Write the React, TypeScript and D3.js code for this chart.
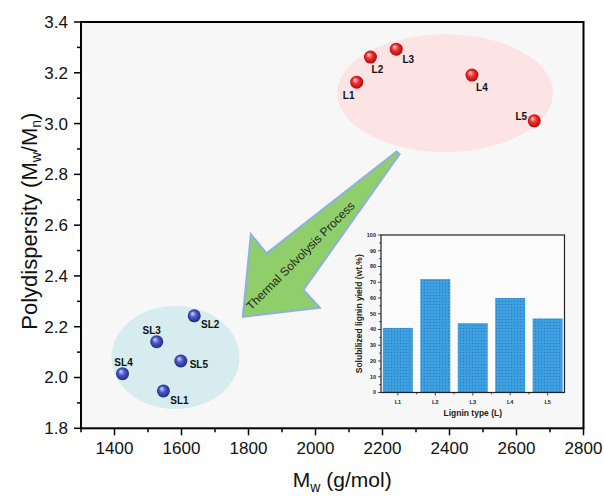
import React, { useEffect, useRef } from 'react';
import * as d3 from 'd3';

// raw lignins (red) and solvolysis lignins (blue)
const ligninLabels = ['L1', 'L2', 'L3', 'L4', 'L5'];
const ligninMw = [2123, 2164, 2241, 2467, 2653];
const ligninPdi = [3.163, 3.262, 3.293, 3.191, 3.011];

const slLabels = ['SL1', 'SL2', 'SL3', 'SL4', 'SL5'];
const slMw = [1546, 1638, 1526, 1424, 1598];
const slPdi = [1.947, 2.243, 2.141, 2.015, 2.065];

// inset bar chart
const yieldCategories = ['L1', 'L2', 'L3', 'L4', 'L5'];
const yieldValues = [41, 72, 44, 60, 47];

const xTicks = [1400, 1600, 1800, 2000, 2200, 2400, 2600, 2800];
const yTicks = [1.8, 2.0, 2.2, 2.4, 2.6, 2.8, 3.0, 3.2, 3.4];
const insetTicks = [0, 10, 20, 30, 40, 50, 60, 70, 80, 90, 100];

// group ellipses in data units: [cx, cy, rx, ry]
const ligninCloud = [2387, 3.12, 322, 0.232];
const slCloud = [1582, 2.079, 191, 0.203];

// arrow outline in data units
const arrowMw = [2242, 2251, 1964, 2013, 1783, 1807, 1854];
const arrowPdi = [2.89, 2.88, 2.345, 2.275, 2.239, 2.564, 2.489];

// label offsets in px
const ligninLabelDx = [-8, 7, 12, 10, -13];
const ligninLabelDy = [13, 12, 10, 12, -4];
const slLabelDx = [16, 16, -5, 1, 18];
const slLabelDy = [10, 9, -11, -11, 3];

const App = () => {
  const ref = useRef(null);

  useEffect(() => {
    const svg = d3.select(ref.current);
    svg.selectAll('*').remove();

    const left = 81, right = 583.5, top = 22, bottom = 428.3;
    const x = d3.scaleLinear().domain([1300, 2800]).range([left, right]);
    const y = d3.scaleLinear().domain([1.8, 3.4]).range([bottom, top]);

    const defs = svg.append('defs');
    const mkGrad = (id, c0, c1, c2) => {
      const g = defs.append('radialGradient').attr('id', id)
        .attr('cx', '50%').attr('cy', '50%').attr('r', '55%')
        .attr('fx', '35%').attr('fy', '30%');
      g.append('stop').attr('offset', '0%').attr('stop-color', c0);
      g.append('stop').attr('offset', '45%').attr('stop-color', c1);
      g.append('stop').attr('offset', '100%').attr('stop-color', c2);
    };
    mkGrad('redBall', '#ffd0d0', '#f03030', '#b00000');
    mkGrad('blueBall', '#d0d6ff', '#4a58c8', '#1c2478');

    const pat = defs.append('pattern').attr('id', 'barDots')
      .attr('patternUnits', 'userSpaceOnUse').attr('width', 3).attr('height', 3);
    pat.append('rect').attr('width', 3).attr('height', 3).attr('fill', '#3d9fe0');
    pat.append('rect').attr('x', 1).attr('y', 1).attr('width', 1).attr('height', 1).attr('fill', '#2a7cbf');

    // plot background
    svg.append('rect').attr('x', left).attr('y', top)
      .attr('width', right - left).attr('height', bottom - top).attr('fill', '#f7f7f7');

    // clouds
    svg.append('ellipse')
      .attr('cx', x(ligninCloud[0])).attr('cy', y(ligninCloud[1]))
      .attr('rx', x(ligninCloud[0] + ligninCloud[2]) - x(ligninCloud[0]))
      .attr('ry', y(ligninCloud[1]) - y(ligninCloud[1] + ligninCloud[3]))
      .attr('fill', '#fce4e4');
    svg.append('ellipse')
      .attr('cx', x(slCloud[0])).attr('cy', y(slCloud[1]))
      .attr('rx', x(slCloud[0] + slCloud[2]) - x(slCloud[0]))
      .attr('ry', y(slCloud[1]) - y(slCloud[1] + slCloud[3]))
      .attr('fill', '#d6ecef');

    // arrow
    const arrowPts = arrowMw.map((m, i) => [x(m), y(arrowPdi[i])]);
    svg.append('path')
      .attr('d', d3.line()(arrowPts) + 'Z')
      .attr('fill', '#8fce6a')
      .attr('stroke', '#8eb0e2')
      .attr('stroke-width', 2)
      .attr('stroke-linejoin', 'miter');
    svg.append('text')
      .attr('transform', `translate(${x(1955)},${y(2.48)}) rotate(-45)`)
      .attr('text-anchor', 'middle')
      .attr('dy', '0.35em')
      .attr('font-family', 'Liberation Sans, Arial, sans-serif')
      .attr('font-size', 12)
      .attr('fill', '#1e2a1e')
      .text('Thermal Solvolysis Process');

    // points
    const drawBalls = (mw, pdi, labels, dx, dy, grad, r) => {
      mw.forEach((m, i) => {
        svg.append('circle').attr('cx', x(m)).attr('cy', y(pdi[i])).attr('r', r)
          .attr('fill', `url(#${grad})`);
        svg.append('text')
          .attr('x', x(m) + dx[i]).attr('y', y(pdi[i]) + dy[i])
          .attr('text-anchor', 'middle').attr('dy', '0.35em')
          .attr('font-family', 'Liberation Sans, Arial, sans-serif')
          .attr('font-weight', 'bold').attr('font-size', 10).attr('fill', '#111')
          .text(labels[i]);
      });
    };
    drawBalls(ligninMw, ligninPdi, ligninLabels, ligninLabelDx, ligninLabelDy, 'redBall', 6.5);
    drawBalls(slMw, slPdi, slLabels, slLabelDx, slLabelDy, 'blueBall', 6.5);

    // main axes
    const font = 'Liberation Sans, Arial, sans-serif';
    const xAxis = svg.append('g').attr('transform', `translate(0,${bottom})`);
    d3.range(1300, 2801, 100).forEach(v => {
      const major = xTicks.includes(v);
      xAxis.append('line').attr('x1', x(v)).attr('x2', x(v)).attr('y1', 0).attr('y2', major ? 7 : 4)
        .attr('stroke', '#000').attr('stroke-width', 1.5);
    });
    xTicks.forEach(v => {
      xAxis.append('text').attr('x', x(v)).attr('y', 26).attr('text-anchor', 'middle')
        .attr('font-family', font).attr('font-size', 17).attr('fill', '#111').text(v);
    });
    const yAxis = svg.append('g').attr('transform', `translate(${left},0)`);
    d3.range(18, 35).forEach(k => {
      const v = k / 10;
      const major = k % 2 === 0;
      yAxis.append('line').attr('x1', 0).attr('x2', major ? -7 : -4).attr('y1', y(v)).attr('y2', y(v))
        .attr('stroke', '#000').attr('stroke-width', 1.5);
    });
    yTicks.forEach(v => {
      yAxis.append('text').attr('x', -13).attr('y', y(v)).attr('dy', '0.35em').attr('text-anchor', 'end')
        .attr('font-family', font).attr('font-size', 17).attr('fill', '#111').text(v.toFixed(1));
    });
    svg.append('rect').attr('x', left).attr('y', top)
      .attr('width', right - left).attr('height', bottom - top)
      .attr('fill', 'none').attr('stroke', '#000').attr('stroke-width', 2);

    // axis titles
    const xt = svg.append('text').attr('x', (left + right) / 2 + 10).attr('y', 487)
      .attr('text-anchor', 'middle').attr('font-family', font).attr('font-size', 21).attr('fill', '#111');
    xt.append('tspan').text('M');
    xt.append('tspan').attr('font-size', 14).attr('dy', 5).text('w');
    xt.append('tspan').attr('dy', -5).text(' (g/mol)');

    const yt = svg.append('text')
      .attr('transform', `translate(37,${(top + bottom) / 2 - 4}) rotate(-90)`)
      .attr('text-anchor', 'middle').attr('font-family', font).attr('font-size', 22).attr('fill', '#111');
    yt.append('tspan').text('Polydispersity (M');
    yt.append('tspan').attr('font-size', 14).attr('dy', 4).text('w');
    yt.append('tspan').attr('dy', -4).text('/M');
    yt.append('tspan').attr('font-size', 14).attr('dy', 4).text('n');
    yt.append('tspan').attr('dy', -4).text(')');

    // inset
    const iL = 381, iR = 564.5, iT = 235, iB = 392.5;
    const ix = d3.scaleBand().domain(yieldCategories).range([iL, iR]).paddingInner(0.2).paddingOuter(0.05);
    const iy = d3.scaleLinear().domain([0, 100]).range([iB, iT]);
    svg.append('rect').attr('x', iL).attr('y', iT).attr('width', iR - iL).attr('height', iB - iT)
      .attr('fill', '#fbfbfb');
    svg.selectAll('.bar').data(yieldValues).enter().append('rect')
      .attr('class', 'bar')
      .attr('x', (d, i) => ix(yieldCategories[i]))
      .attr('y', d => iy(d))
      .attr('width', ix.bandwidth())
      .attr('height', d => iB - iy(d))
      .attr('fill', 'url(#barDots)');
    svg.append('rect').attr('x', iL).attr('y', iT).attr('width', iR - iL).attr('height', iB - iT)
      .attr('fill', 'none').attr('stroke', '#222').attr('stroke-width', 1.2);
    d3.range(0, 101, 5).forEach(v => {
      svg.append('line').attr('x1', iL).attr('x2', iL - (v % 10 === 0 ? 3 : 1.8))
        .attr('y1', iy(v)).attr('y2', iy(v)).attr('stroke', '#222').attr('stroke-width', 0.8);
    });
    insetTicks.forEach(v => {
      svg.append('text').attr('x', iL - 5).attr('y', iy(v)).attr('dy', '0.35em').attr('text-anchor', 'end')
        .attr('font-family', font).attr('font-weight', 'bold').attr('font-size', 5.5).attr('fill', '#222').text(v);
    });
    yieldCategories.forEach((c, i) => {
      const cx = ix(c) + ix.bandwidth() / 2;
      svg.append('line').attr('x1', cx).attr('x2', cx).attr('y1', iB).attr('y2', iB + 3)
        .attr('stroke', '#222').attr('stroke-width', 0.8);
      if (i > 0) {
        const bx = ix(c) - ix.step() * ix.paddingInner() / 2;
        svg.append('line').attr('x1', bx).attr('x2', bx).attr('y1', iB).attr('y2', iB + 1.8)
          .attr('stroke', '#222').attr('stroke-width', 0.8);
      }
      svg.append('text').attr('x', cx).attr('y', iB + 11).attr('text-anchor', 'middle')
        .attr('font-family', font).attr('font-weight', 'bold').attr('font-size', 5.5).attr('fill', '#222').text(c);
    });
    svg.append('text').attr('x', (iL + iR) / 2).attr('y', iB + 23).attr('text-anchor', 'middle')
      .attr('font-family', font).attr('font-weight', 'bold').attr('font-size', 8.5).attr('fill', '#222')
      .text('Lignin type (L)');
    svg.append('text')
      .attr('transform', `translate(${iL - 19},${(iT + iB) / 2}) rotate(-90)`)
      .attr('text-anchor', 'middle').attr('font-family', font).attr('font-weight', 'bold')
      .attr('font-size', 8.5).attr('fill', '#222')
      .text('Solubilized lignin yield (wt.%)');
  }, []);

  return (
    <svg ref={ref} width={604} height={496}
      style={{ position: 'absolute', left: 0, top: 0, background: '#fff' }} />
  );
};

export default App;
